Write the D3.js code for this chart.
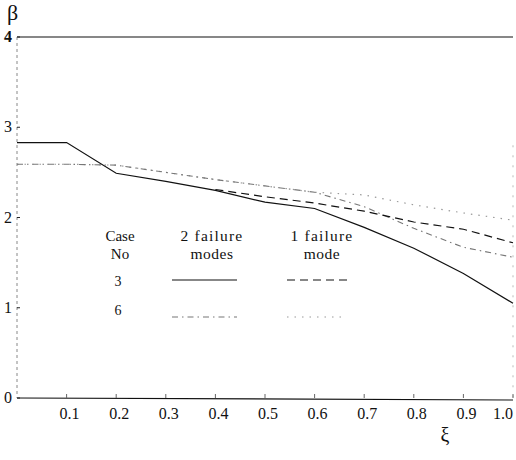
<!DOCTYPE html>
<html>
<head>
<meta charset="utf-8">
<script src="https://cdn.jsdelivr.net/npm/d3@7"></script>
</head>
<body style="margin:0">
<script>
// ---- data ----
const xi = [0, 0.1, 0.2, 0.3, 0.4, 0.5, 0.6, 0.7, 0.8, 0.9, 1.0];
const case3TwoModes = [2.83, 2.83, 2.49, 2.40, 2.30, 2.17, 2.10, 1.89, 1.66, 1.38, 1.05];
const xiOneModeCase3 = [0.4, 0.5, 0.6, 0.7, 0.8, 0.9, 1.0];
const case3OneMode = [2.31, 2.23, 2.16, 2.07, 1.95, 1.87, 1.72];
const case6TwoModes = [2.59, 2.59, 2.58, 2.50, 2.42, 2.35, 2.28, 2.12, 1.88, 1.67, 1.56];
const case6OneMode = [2.59, 2.59, 2.58, 2.50, 2.42, 2.35, 2.28, 2.25, 2.14, 2.05, 1.97];
const xTickValues = [0.1, 0.2, 0.3, 0.4, 0.5, 0.6, 0.7, 0.8, 0.9, 1.0];
const xTickLabels = ["0.1", "0.2", "0.3", "0.4", "0.5", "0.6", "0.7", "0.8", "0.9", "1.0"];
const yTickValues = [0, 1, 2, 3, 4];
const legendCases = ["3", "6"];
const legendCols = ["2 failure|modes", "1 failure|mode"];

const W = 516, H = 460;
const FONT = "Liberation Serif";
const svg = d3.select("body").append("svg").attr("width", W).attr("height", H)
  .style("display", "block");
const txt = (sel) => sel.append("text").attr("font-family", FONT).attr("fill", "#111");

const x = d3.scaleLinear().domain([0, 1]).range([17, 513]);
const y = d3.scaleLinear().domain([0, 4]).range([398, 37]);

// frame: top line, bottom line, dotted left axis, faint right border
svg.append("line").attr("x1", x(0)).attr("x2", x(1)).attr("y1", y(4)).attr("y2", y(4))
  .attr("stroke", "#111").attr("stroke-width", 1.2);
svg.append("line").attr("x1", x(0)).attr("x2", x(1)).attr("y1", y(0)).attr("y2", y(0) + 2)
  .attr("stroke", "#111").attr("stroke-width", 1.2);
svg.append("line").attr("x1", x(0)).attr("x2", x(0)).attr("y1", y(4)).attr("y2", y(0))
  .attr("stroke", "#888").attr("stroke-width", 1).attr("stroke-dasharray", "3,3");
svg.append("line").attr("x1", x(1)).attr("x2", x(1)).attr("y1", y(2.8)).attr("y2", y(0))
  .attr("stroke", "#bbb").attr("stroke-width", 1).attr("stroke-dasharray", "2,8");

// y ticks & labels
yTickValues.forEach(v => {
  svg.append("line").attr("x1", x(0)).attr("x2", x(0) + 3).attr("y1", y(v)).attr("y2", y(v))
    .attr("stroke", "#222").attr("stroke-width", 1);
  txt(svg).attr("x", x(0) - 5).attr("y", y(v) + 5).attr("text-anchor", "end")
    .attr("font-size", 16).attr("font-weight", v === 4 ? "bold" : "normal").text(String(v));
});

// x ticks & labels
xTickValues.forEach((v, i) => {
  svg.append("line").attr("x1", x(v)).attr("x2", x(v)).attr("y1", y(0)).attr("y2", y(0) - 4)
    .attr("stroke", "#666").attr("stroke-width", 1);
  const last = i === xTickValues.length - 1;
  txt(svg).attr("x", last ? x(v) : x(v) + 3).attr("y", 419)
    .attr("text-anchor", last ? "end" : "middle").attr("font-size", 16).text(xTickLabels[i]);
});

// axis titles
txt(svg).attr("x", 7).attr("y", 20).attr("font-size", 22).text("β");
txt(svg).attr("x", 445).attr("y", 442).attr("text-anchor", "middle").attr("font-size", 20).text("ξ");

// series
const line = d3.line().x(d => x(d[0])).y(d => y(d[1]));
const series = [
  { xs: xi, ys: case6OneMode, stroke: "#999", width: 1.2, dash: "1.5,6" },
  { xs: xi, ys: case6TwoModes, stroke: "#777", width: 1.1, dash: "6,4,1.5,4" },
  { xs: xiOneModeCase3, ys: case3OneMode, stroke: "#111", width: 1.2, dash: "8,5" },
  { xs: xi, ys: case3TwoModes, stroke: "#111", width: 1.2, dash: null }
];
series.forEach(s => {
  svg.append("path").datum(s.xs.map((v, i) => [v, s.ys[i]]))
    .attr("d", line).attr("fill", "none")
    .attr("stroke", s.stroke).attr("stroke-width", s.width)
    .attr("stroke-dasharray", s.dash);
});

// legend
const row1 = 241, row2 = 259;
txt(svg).attr("x", 120).attr("y", row1).attr("text-anchor", "middle").attr("font-size", 15).text("Case");
txt(svg).attr("x", 120).attr("y", row2).attr("text-anchor", "middle").attr("font-size", 15).text("No");
const colX = [212, 322];
legendCols.forEach((c, i) => {
  const parts = c.split("|");
  txt(svg).attr("x", colX[i]).attr("y", row1).attr("text-anchor", "middle").attr("font-size", 15.5)
    .attr("letter-spacing", 1.2).text(parts[0]);
  txt(svg).attr("x", colX[i]).attr("y", row2).attr("text-anchor", "middle").attr("font-size", 15.5)
    .attr("letter-spacing", 0.5).text(parts[1]);
});
txt(svg).attr("x", 118).attr("y", 286).attr("text-anchor", "middle").attr("font-size", 14).text(legendCases[0]);
txt(svg).attr("x", 118).attr("y", 315).attr("text-anchor", "middle").attr("font-size", 14).text(legendCases[1]);
const legendLines = [
  { x1: 172, x2: 237, yy: 280, s: series[3] },
  { x1: 287, x2: 351, yy: 280, s: series[2] },
  { x1: 172, x2: 237, yy: 317, s: series[1] },
  { x1: 287, x2: 347, yy: 317, s: series[0] }
];
legendLines.forEach(l => {
  svg.append("line").attr("x1", l.x1).attr("x2", l.x2).attr("y1", l.yy).attr("y2", l.yy)
    .attr("stroke", l.s.stroke).attr("stroke-width", l.s.width).attr("stroke-dasharray", l.s.dash);
});
</script>
</body>
</html>
